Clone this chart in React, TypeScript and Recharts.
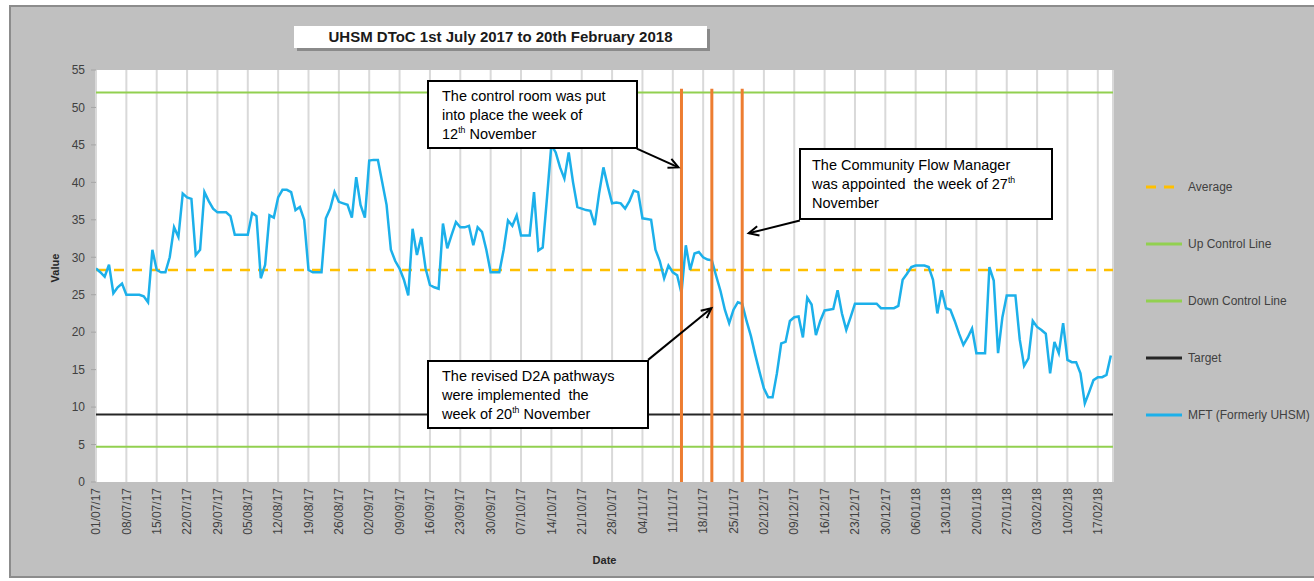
import React from 'react';
import { LineChart, Line, XAxis, YAxis, CartesianGrid, ReferenceLine, Legend } from 'recharts';

// ---------- DATA ----------
// Daily values, 01/07/2017 (day 0) to 20/02/2018 (day 234)
const mftValues: number[] = [
  28.5, 28, 27.4, 29, 25.2, 26, 26.5,
  25, 25, 25, 25, 24.8, 24, 31,
  28.3, 28, 28, 30, 34, 32.7, 38.5,
  38, 37.8, 30.3, 31, 38.7, 37.5, 36.5,
  36, 36, 36, 35.5, 33, 33, 33,
  33, 35.9, 35.5, 27.2, 29, 35.6, 35.3,
  38, 39, 39, 38.7, 36.3, 36.7, 35,
  28.3, 28, 28, 28, 35.2, 36.5, 38.7,
  37.4, 37.2, 37, 35.3, 40.7, 37, 35.3,
  42.9, 43, 43, 40, 37, 31, 29.5,
  28.5, 27, 24.9, 33.8, 30.3, 32.7, 28.5,
  26.3, 26, 25.8, 34.5, 31.2, 33, 34.7,
  34, 34, 34.2, 31.6, 34, 33.4, 31,
  28, 28, 28, 31, 34.9, 34.2, 35.6,
  32.9, 32.9, 32.9, 38.7, 30.9, 31.3, 38,
  45, 44, 42, 40.5, 44, 40, 36.7,
  36.5, 36.3, 36.2, 34.3, 38.5, 42, 39.5,
  37.2, 37.3, 37.2, 36.5, 37.5, 38.9, 38.7,
  35.2, 35.1, 35, 31, 29.5, 27.2, 28.9,
  28, 27.6, 25.2, 31.6, 28.3, 30.5, 30.7,
  30, 29.7, 29.6, 27.5, 25.5, 23, 21.2,
  23, 24, 23.8, 21.5, 19.5, 17, 14.7,
  12.5, 11.3, 11.3, 14.5, 18.5, 18.7, 21.5,
  22, 22.1, 19.3, 24.6, 23.7, 19.6, 21.5,
  22.9, 23, 23.1, 25.6, 22.5, 20.3, 22,
  23.8, 23.8, 23.8, 23.8, 23.8, 23.8, 23.2,
  23.2, 23.2, 23.2, 23.5, 27, 27.8, 28.7,
  28.9, 28.9, 28.9, 28.7, 27, 22.5, 25.6,
  23.2, 23, 21.5, 19.8, 18.3, 19.3, 20.5,
  17.2, 17.2, 17.2, 28.7, 26.9, 17.2, 22,
  24.9, 24.9, 24.9, 19, 15.5, 16.5, 21.5,
  20.7, 20.3, 19.8, 14.5, 18.7, 17.2, 21.2,
  16.3, 16, 16, 14.5, 10.5, 12, 13.6,
  14, 14, 14.3, 16.9,
];

const tickLabels: string[] = [
  '01/07/17', '08/07/17', '15/07/17', '22/07/17', '29/07/17', '05/08/17', '12/08/17',
  '19/08/17', '26/08/17', '02/09/17', '09/09/17', '16/09/17', '23/09/17', '30/09/17',
  '07/10/17', '14/10/17', '21/10/17', '28/10/17', '04/11/17', '11/11/17', '18/11/17',
  '25/11/17', '02/12/17', '09/12/17', '16/12/17', '23/12/17', '30/12/17', '06/01/18',
  '13/01/18', '20/01/18', '27/01/18', '03/02/18', '10/02/18', '17/02/18',
];

const yTicks: number[] = [0, 5, 10, 15, 20, 25, 30, 35, 40, 45, 50, 55];

const averageValue = 28.3;
const upControlValue = 52;
const downControlValue = 4.7;
const targetValue = 9;

// intervention weeks (day index): 13 Nov, 20 Nov, 27 Nov 2017
const interventionDays: number[] = [135, 142, 149];
const interventionTop = 52.5;

const legendItems = [
  { name: 'Average', color: '#ffc000', dash: '10 8' },
  { name: 'Up Control Line', color: '#92d050', dash: '' },
  { name: 'Down Control Line', color: '#92d050', dash: '' },
  { name: 'Target', color: '#262626', dash: '' },
  { name: 'MFT (Formerly UHSM)', color: '#1cb0ea', dash: '' },
];

const data = mftValues.map((v, i) => ({ day: i, mft: v }));

// arrows (data coordinates): [fromDay, fromValue, toDay, toValue]
const arrows: number[][] = [
  [124.7, 44.5, 134.3, 42],
  [162.3, 34.9, 150.5, 33.2],
  [127.3, 16.3, 141.9, 23.2],
];

const FONT = '"Liberation Sans", Arial, sans-serif';

const XTick = (props: any) => {
  const { x, y, payload } = props;
  const label = tickLabels[Math.round(payload.value / 7)];
  return (
    <text
      x={x}
      y={y}
      transform={`rotate(-90 ${x} ${y})`}
      textAnchor="end"
      dy="0.35em"
      fontSize={12}
      fill="#404040"
      fontFamily={FONT}
    >
      {label}
    </text>
  );
};

const ArrowShape = (props: any) => {
  const { x1, y1, x2, y2 } = props;
  if ([x1, y1, x2, y2].some((v) => typeof v !== 'number' || isNaN(v))) return null;
  const ang = Math.atan2(y2 - y1, x2 - x1);
  const L = 11;
  const a1 = ang + Math.PI - 0.45;
  const a2 = ang + Math.PI + 0.45;
  return (
    <g>
      <line x1={x1} y1={y1} x2={x2} y2={y2} stroke="#000" strokeWidth={2} />
      <polyline
        points={`${x2 + L * Math.cos(a1)},${y2 + L * Math.sin(a1)} ${x2},${y2} ${x2 + L * Math.cos(a2)},${y2 + L * Math.sin(a2)}`}
        fill="none"
        stroke="#000"
        strokeWidth={2}
      />
    </g>
  );
};

const YLabel = (props: any) => {
  const vb = props.viewBox || {};
  const cx = vb.x - 1;
  const cy = vb.y + vb.height / 2 - 8;
  return (
    <text x={cx} y={cy} transform={`rotate(-90 ${cx} ${cy})`} textAnchor="middle" dy="0.35em" fontSize={11} fontWeight="bold" fill="#262626" fontFamily={FONT}>
      Value
    </text>
  );
};

const XLabel = (props: any) => {
  const vb = props.viewBox || {};
  return (
    <text x={vb.x + vb.width / 2} y={564} textAnchor="middle" fontSize={11} fontWeight="bold" fill="#262626" fontFamily={FONT}>
      Date
    </text>
  );
};

const LegendContent = () => (
  <div style={{ display: 'flex', flexDirection: 'column', fontFamily: FONT }}>
    {legendItems.map((it) => (
      <div key={it.name} style={{ height: 57, display: 'flex', alignItems: 'center' }}>
        <svg width={38} height={10} style={{ flex: 'none' }}>
          <line x1={0} y1={5} x2={36} y2={5} stroke={it.color} strokeWidth={3} strokeDasharray={it.dash || undefined} />
        </svg>
        <span style={{ marginLeft: 4, fontSize: 12, color: '#404040', whiteSpace: 'nowrap' }}>{it.name}</span>
      </div>
    ))}
  </div>
);

const sup: React.CSSProperties = { fontSize: '0.6em', verticalAlign: 'super', lineHeight: 0 };

const boxBase: React.CSSProperties = {
  position: 'absolute',
  background: '#fff',
  border: '2px solid #000',
  boxSizing: 'border-box',
  fontFamily: FONT,
  fontSize: 14.5,
  lineHeight: '19px',
  color: '#000',
  whiteSpace: 'nowrap',
};

export default function App() {
  return (
    <div style={{ position: 'relative', width: 1314, height: 581, overflow: 'hidden', background: '#fff' }}>
      <style>{`body{margin:0}`}</style>
      <div
        style={{
          position: 'absolute',
          left: 9,
          top: 5,
          width: 1320,
          height: 573,
          background: '#c0c0c0',
          border: '2px solid #8c8c8c',
          boxSizing: 'border-box',
        }}
      />
      <div style={{ position: 'absolute', left: 0, top: 0 }}>
        <LineChart
          width={1314}
          height={581}
          data={data}
          margin={{ top: 70, right: 201, bottom: 14, left: 56 }}
          style={{ fontFamily: FONT }}
        >
          <CartesianGrid horizontal={false} vertical stroke="#d9d9d9" strokeWidth={2} fill="#ffffff" />
          <XAxis
            type="number"
            dataKey="day"
            domain={[0, 234.5]}
            ticks={tickLabels.map((_, i) => i * 7)}
            interval={0}
            allowDataOverflow
            axisLine={false}
            tickLine={false}
            tickSize={6}
            tickMargin={0}
            height={85}
            tick={<XTick />}
            label={<XLabel />}
          />
          <YAxis
            type="number"
            domain={[0, 55]}
            ticks={yTicks}
            interval={0}
            width={40}
            axisLine={false}
            tickLine={{ stroke: '#a6a6a6' }}
            tickSize={5}
            tickMargin={6}
            tick={{ fontSize: 12, fill: '#404040', fontFamily: FONT }}
            label={<YLabel />}
          />
          <ReferenceLine y={averageValue} stroke="#ffc000" strokeWidth={2.5} strokeDasharray="10 8" ifOverflow="extendDomain" />
          <ReferenceLine y={upControlValue} stroke="#92d050" strokeWidth={2} />
          <ReferenceLine y={downControlValue} stroke="#92d050" strokeWidth={2} />
          <ReferenceLine y={targetValue} stroke="#262626" strokeWidth={2} />
          <Line
            type="linear"
            dataKey="mft"
            name="MFT (Formerly UHSM)"
            stroke="#1cb0ea"
            strokeWidth={2.5}
            dot={false}
            activeDot={false}
            isAnimationActive={false}
          />
          {interventionDays.map((d) => (
            <ReferenceLine
              key={d}
              segment={[{ x: d, y: 0 }, { x: d, y: interventionTop }]}
              stroke="#ed7d31"
              strokeWidth={3}
            />
          ))}
          {arrows.map((a, i) => (
            <ReferenceLine
              key={'arr' + i}
              segment={[{ x: a[0], y: a[1] }, { x: a[2], y: a[3] }]}
              shape={<ArrowShape />}
            />
          ))}
          <Legend
            layout="horizontal"
            verticalAlign="middle"
            align="center"
            content={<LegendContent />}
            wrapperStyle={{ left: 1146, top: 158, width: 168, height: 290 }}
          />
        </LineChart>
      </div>

      {/* title */}
      <div
        style={{
          position: 'absolute',
          left: 294,
          top: 26,
          width: 413,
          height: 22,
          background: '#fff',
          boxShadow: '3px 3px 0 #8a8a8a',
          fontFamily: FONT,
          fontWeight: 'bold',
          fontSize: 15,
          lineHeight: '22px',
          textAlign: 'center',
          color: '#1a1a1a',
          whiteSpace: 'nowrap',
        }}
      >
        UHSM DToC 1st July 2017 to 20th February 2018
      </div>

      {/* annotations */}
      <div style={{ ...boxBase, left: 427, top: 80, width: 211, height: 69, padding: '5px 0 0 13px' }}>
        The control room was put
        <br />
        into place the week of
        <br />
        12<span style={sup}>th</span> November
      </div>
      <div style={{ ...boxBase, left: 799, top: 148, width: 254, height: 72, padding: '6px 0 0 11px' }}>
        The Community Flow Manager
        <br />
        was appointed&nbsp; the week of 27<span style={sup}>th</span>
        <br />
        November
      </div>
      <div style={{ ...boxBase, left: 427, top: 360, width: 222, height: 69, padding: '5px 0 0 13px' }}>
        The revised D2A pathways
        <br />
        were implemented&nbsp; the
        <br />
        week of 20<span style={sup}>th</span> November
      </div>
    </div>
  );
}
